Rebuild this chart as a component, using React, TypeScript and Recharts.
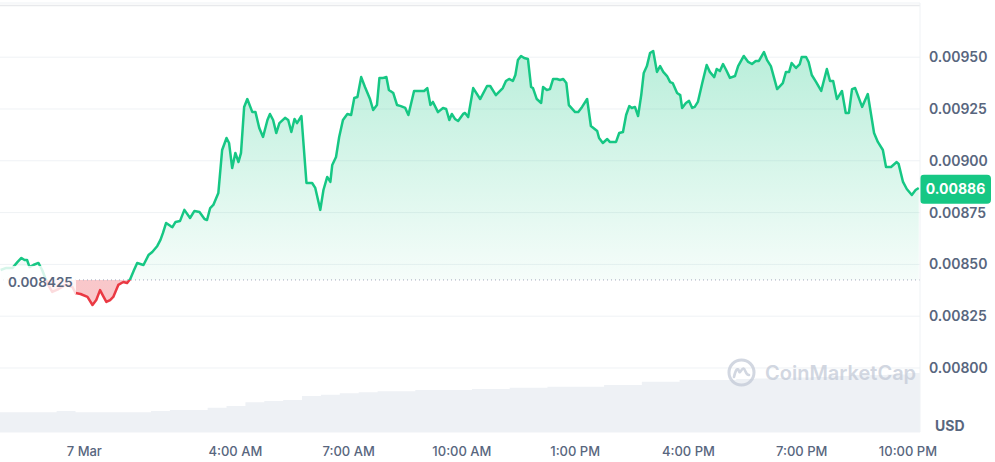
import {
  ComposedChart,
  Area,
  XAxis,
  YAxis,
  CartesianGrid,
  ReferenceLine,
} from "recharts";

// minutes from 7 Mar 00:00 (negative = evening of 6 Mar)
const priceMinutes = [
  -133, -124, -114, -106, -100, -95, -91, -87, -81, -73,
  -67, -59, -51, -41, -30, -19, -14, -6, 5, 13,
  19, 25, 30, 35, 41, 46, 54, 62, 68, 73,
  79, 84, 94, 102, 108, 116, 121, 125, 130, 137,
  140, 145, 152, 159, 168, 175, 183, 191, 195, 200,
  205, 213, 219, 226, 230, 235, 240, 245, 249, 254,
  259, 267, 272, 278, 284, 291, 295, 300, 305, 310,
  319, 324, 329, 334, 338, 345, 353, 362, 367, 375,
  380, 386, 391, 394, 400, 405, 411, 418, 424, 429,
  434, 440, 446, 454, 459, 465, 469, 475, 480, 484,
  491, 497, 503, 510, 515, 524, 534, 540, 545, 550,
  554, 562, 570, 575, 580, 584, 589, 594, 602, 605,
  610, 618, 629, 640, 645, 654, 665, 670, 675, 681,
  685, 689, 694, 699, 705, 710, 713, 719, 726, 729,
  735, 740, 745, 751, 756, 761, 766, 770, 780, 785,
  791, 799, 805, 815, 818, 824, 831, 835, 845, 850,
  856, 861, 866, 870, 875, 880, 885, 889, 894, 899,
  904, 910, 915, 920, 926, 931, 935, 942, 947, 950,
  956, 961, 966, 970, 975, 982, 989, 994, 1001, 1005,
  1010, 1015, 1020, 1026, 1034, 1039, 1048, 1055, 1061, 1067,
  1072, 1080, 1085, 1091, 1101, 1110, 1115, 1120, 1124, 1131,
  1137, 1140, 1147, 1151, 1156, 1163, 1171, 1180, 1185, 1190,
  1196, 1204, 1210, 1215, 1220, 1225, 1236, 1245, 1255, 1261,
  1269, 1274, 1282, 1291, 1294, 1301, 1307, 1315, 1321, 1326,
];

const priceValues = [
  0.008473, 0.008483, 0.008483, 0.008512, 0.008531, 0.008521, 0.008521, 0.008487, 0.008497, 0.008507,
  0.008473, 0.00841, 0.008367, 0.008381, 0.008401, 0.008391, 0.008362, 0.008357, 0.008343, 0.008304,
  0.008328, 0.008376, 0.008347, 0.008319, 0.008328, 0.008343, 0.008401, 0.008415, 0.00841, 0.00843,
  0.008473, 0.008507, 0.008497, 0.008545, 0.00856, 0.008589, 0.008618, 0.008652, 0.0087, 0.008685,
  0.00868, 0.008705, 0.008709, 0.008763, 0.008724, 0.008758, 0.008753, 0.008719, 0.008714, 0.008772,
  0.008787, 0.008845, 0.009052, 0.00911, 0.009086, 0.008965, 0.009038, 0.008994, 0.009038, 0.00926,
  0.009298, 0.009235, 0.009235, 0.009158, 0.009115, 0.009197, 0.009226, 0.009197, 0.009134, 0.009182,
  0.009207, 0.009197, 0.009139, 0.009202, 0.009182, 0.009216, 0.008893, 0.008893, 0.008869, 0.008763,
  0.008859, 0.008922, 0.008898, 0.00898, 0.009018, 0.009115, 0.009197, 0.009226, 0.009221, 0.009303,
  0.009308, 0.009404, 0.009356, 0.009298, 0.009245, 0.009269, 0.0094, 0.0094, 0.009404, 0.009342,
  0.009327, 0.009269, 0.009264, 0.009255, 0.009221, 0.009337, 0.009337, 0.009337, 0.009351, 0.009269,
  0.009284, 0.009235, 0.009255, 0.00925, 0.009197, 0.009226, 0.009202, 0.009192, 0.009226, 0.009231,
  0.009211, 0.009351, 0.009298, 0.009361, 0.009361, 0.009317, 0.009351, 0.009385, 0.009395, 0.009385,
  0.009414, 0.009486, 0.009506, 0.009496, 0.009491, 0.009356, 0.009351, 0.009298, 0.009279, 0.009356,
  0.009342, 0.009346, 0.009395, 0.009395, 0.00939, 0.009395, 0.009375, 0.009269, 0.009235, 0.009235,
  0.00926, 0.009298, 0.009168, 0.009144, 0.00911, 0.009086, 0.009105, 0.009091, 0.009091, 0.009134,
  0.009139, 0.009221, 0.009264, 0.009255, 0.00926, 0.009216, 0.009317, 0.009424, 0.009457, 0.00952,
  0.00953, 0.009429, 0.009457, 0.009429, 0.009409, 0.00938, 0.009375, 0.009327, 0.009317, 0.009255,
  0.009279, 0.009289, 0.009255, 0.00926, 0.009284, 0.009375, 0.009462, 0.009429, 0.009404, 0.009443,
  0.009433, 0.009467, 0.009438, 0.0094, 0.009409, 0.009457, 0.009506, 0.009477, 0.009467, 0.009482,
  0.009482, 0.009525, 0.009486, 0.009457, 0.009346, 0.009375, 0.009429, 0.009429, 0.009472, 0.009448,
  0.009467, 0.009501, 0.009501, 0.009477, 0.009414, 0.00938, 0.009337, 0.009443, 0.009385, 0.009385,
  0.009298, 0.009337, 0.009231, 0.009231, 0.009346, 0.009351, 0.00926, 0.009322, 0.009134, 0.009091,
  0.009052, 0.00897, 0.00897, 0.008994, 0.008985, 0.008898, 0.008864, 0.008835, 0.008859, 0.008869,
];

// volume in millions USD, one value per 30 minutes starting at volumeStart
const volumeStart = -134;
const volumeStep = 30;
const volumeValues = [
  1.97, 1.97, 1.97, 2.1, 1.97, 1.97, 1.97, 1.97, 2.1, 2.2,
  2.2, 2.43, 2.6, 2.97, 3.1, 3.2, 3.6, 3.73, 3.87, 3.97,
  4.07, 4.07, 4.2, 4.2, 4.2, 4.3, 4.3, 4.43, 4.43, 4.53,
  4.53, 4.53, 4.7, 4.7, 5.03, 5.03, 5.2, 5.2, 5.2, 5.3,
  5.35, 5.4, 5.45, 5.5, 5.6, 5.7, 5.7, 5.75, 5.9, 5.95,
];

const tickMinutes = [0, 240, 420, 600, 780, 960, 1140, 1320];
const tickLabels = ["7 Mar", "4:00 AM", "7:00 AM", "10:00 AM", "1:00 PM", "4:00 PM", "7:00 PM", "10:00 PM"];
const priceTicks = [0.008, 0.00825, 0.0085, 0.00875, 0.009, 0.00925, 0.0095];

const BASE_PRICE = 0.008425;
const LAST_PRICE = 0.00886;

const GREEN = "#16c784";
const RED = "#ea3943";
const GREY_TEXT = "#58667e";

const rows: any[] = [
  ...priceMinutes.map((t, i) => ({ t, price: priceValues[i] })),
  ...volumeValues.map((v, i) => ({ t: volumeStart + i * volumeStep, volume: v })),
].sort((a, b) => a.t - b.t);

const maxP = Math.max(...priceValues);
const minP = Math.min(...priceValues);
const splitOffset = (maxP - BASE_PRICE) / (maxP - minP);

const XTick = (props: any) => {
  const { x, y, payload } = props;
  const idx = tickMinutes.indexOf(payload.value);
  const shift = idx === tickMinutes.length - 1 ? -7 : 0;
  return (
    <text x={x + shift} y={y + 24} textAnchor="middle" fill={GREY_TEXT} fontSize={13} fontWeight={500}>
      {tickLabels[idx]}
    </text>
  );
};

const BaseLabel = (props: any) => {
  const { viewBox } = props;
  return (
    <g>
      <rect x={viewBox.x} y={viewBox.y - 14} width={76} height={28} fill="#ffffff" fillOpacity={0.82} />
      <text x={viewBox.x + 8} y={viewBox.y + 3} dominantBaseline="middle" fill={GREY_TEXT} fontSize={13.5} fontWeight={600}>
        {BASE_PRICE}
      </text>
    </g>
  );
};

const PriceBadge = (props: any) => {
  const { viewBox } = props;
  const bx = viewBox.x + viewBox.width;
  return (
    <g>
      <rect x={bx} y={viewBox.y - 15} width={71} height={29} rx={4} fill={GREEN} />
      <text x={bx + 35.5} y={viewBox.y} textAnchor="middle" dominantBaseline="middle" fill="#ffffff" fontSize={14} fontWeight={700}>
        {LAST_PRICE.toFixed(5)}
      </text>
    </g>
  );
};

export default function App() {
  return (
    <div style={{ position: "absolute", left: 0, top: 0, width: 995, height: 462, fontFamily: "Inter, sans-serif", background: "#fff" }}>
      <ComposedChart width={995} height={462} data={rows} margin={{ top: 3, right: 0, bottom: 0, left: 0 }}>
        <defs>
          <linearGradient id="priceFill" x1="0" y1="0" x2="0" y2="1">
            <stop offset={0} stopColor={GREEN} stopOpacity={0.3} />
            <stop offset={splitOffset} stopColor={GREEN} stopOpacity={0.04} />
            <stop offset={splitOffset} stopColor={RED} stopOpacity={0.28} />
            <stop offset={1} stopColor={RED} stopOpacity={0.28} />
          </linearGradient>
          <linearGradient id="priceStroke" x1="0" y1="0" x2="0" y2="1">
            <stop offset={splitOffset} stopColor={GREEN} />
            <stop offset={splitOffset} stopColor={RED} />
          </linearGradient>
        </defs>
        <CartesianGrid yAxisId="price" vertical={false} stroke="#eff2f5" />
        <XAxis
          dataKey="t"
          type="number"
          domain={[-134, 1328]}
          allowDataOverflow
          ticks={tickMinutes}
          tick={<XTick />}
          axisLine={false}
          tickLine={false}
          tickSize={0}
          tickMargin={0}
          height={30}
        />
        <YAxis
          yAxisId="price"
          orientation="right"
          type="number"
          domain={[0.0076911, 0.0097615]}
          allowDataOverflow
          ticks={priceTicks}
          tickFormatter={(v: number) => v.toFixed(5)}
          tick={{ fill: GREY_TEXT, fontSize: 14, fontWeight: 600 }}
          axisLine={{ stroke: "#eff2f5" }}
          tickLine={false}
          tickSize={0}
          tickMargin={9}
          width={75}
        />
        <YAxis yAxisId="vol" hide domain={[0, 42.9]} />
        <Area
          yAxisId="vol"
          type="stepAfter"
          dataKey="volume"
          stroke="none"
          fill="#eef1f5"
          fillOpacity={1}
          connectNulls
          dot={false}
          activeDot={false}
          isAnimationActive={false}
        />
        <ReferenceLine yAxisId="price" y={0.00975} stroke="#e8e9ec" strokeWidth={1.5} />
        <Area
          yAxisId="price"
          type="linear"
          dataKey="price"
          baseValue={BASE_PRICE}
          stroke="url(#priceStroke)"
          strokeWidth={2.5}
          strokeLinejoin="round"
          fill="url(#priceFill)"
          fillOpacity={1}
          connectNulls
          dot={false}
          activeDot={false}
          isAnimationActive={false}
        />
        <ReferenceLine
          yAxisId="price"
          y={BASE_PRICE}
          stroke="#a1a7bb"
          strokeDasharray="1 3"
          label={<BaseLabel />}
        />
        <ReferenceLine yAxisId="price" y={LAST_PRICE} stroke="none" label={<PriceBadge />} />
      </ComposedChart>
      <div style={{ position: "absolute", left: 727, top: 358, display: "flex", alignItems: "center", opacity: 0.75, pointerEvents: "none" }}>
        <svg width={29} height={29} viewBox="0 0 29 29">
          <circle cx={14.5} cy={14.5} r={12.5} fill="none" stroke="#c3cad7" strokeWidth={3} />
          <path d="M7 19 C8.5 12, 10.5 9, 12 13 C13 17, 14.5 10, 16.5 10.5 C18.5 11, 18.5 17, 22 17" fill="none" stroke="#c3cad7" strokeWidth={2.6} strokeLinecap="round" />
        </svg>
        <span style={{ marginLeft: 9, fontSize: 20, fontWeight: 600, color: "#c3cad7", letterSpacing: 0 }}>CoinMarketCap</span>
      </div>
      <div style={{ position: "absolute", left: 935, top: 417, fontSize: 14, fontWeight: 700, color: GREY_TEXT }}>USD</div>
    </div>
  );
}
